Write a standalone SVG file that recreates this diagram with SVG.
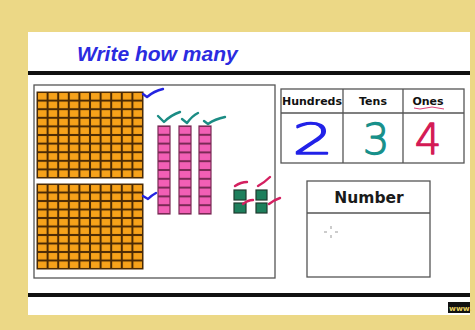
<svg xmlns="http://www.w3.org/2000/svg" width="475" height="330" viewBox="0 0 475 330">
<style>
.chk{fill:none;stroke-width:2.4;stroke-linecap:round;stroke-linejoin:round}
.hdr{font-family:"DejaVu Sans",sans-serif;font-size:11px;font-weight:bold;fill:#111;text-anchor:middle}
.dig{font-family:"DejaVu Sans",sans-serif;font-size:42px;font-weight:200;text-anchor:middle;stroke-width:1.3;stroke-linejoin:round}
.box{fill:#fff;stroke:#555;stroke-width:1.3}
</style>
<defs>
<pattern id="hund" patternUnits="userSpaceOnUse" x="37" y="92" width="10.6" height="8.6">
<rect width="10.6" height="8.6" fill="#4a2a05"/>
<rect x="1" y="1" width="8.6" height="6.6" fill="#F7A21A"/>
</pattern>
<pattern id="hund2" patternUnits="userSpaceOnUse" x="37" y="184" width="10.6" height="8.5">
<rect width="10.6" height="8.5" fill="#4a2a05"/>
<rect x="1" y="1" width="8.6" height="6.5" fill="#F7A21A"/>
</pattern>
<pattern id="ten" patternUnits="userSpaceOnUse" x="0" y="126" width="12" height="8.8">
<rect width="12" height="8.8" fill="#7a2a55"/>
<rect x="0" y="1" width="12" height="6.8" fill="#F25FB5"/>
</pattern>
</defs>
<rect width="475" height="330" fill="#ECD886"/>
<rect x="28" y="32" width="442" height="283" fill="#fff"/>
<rect x="28" y="71" width="442" height="4" fill="#111"/>
<rect x="28" y="293" width="442" height="4" fill="#111"/>
<text x="77" y="61" font-family="Liberation Sans, sans-serif" font-size="21" font-weight="bold" font-style="italic" fill="#2B2BE0">Write how many</text>

<g id="blocks">
<rect class="box" x="34" y="85" width="241" height="193" stroke="#666" stroke-width="1.6"/>
<g id="hundred1"><rect x="37" y="92" width="106" height="86" fill="url(#hund)" stroke="#4a2a05" stroke-width="1"/></g>
<g id="hundred2"><rect x="37" y="184" width="106" height="85" fill="url(#hund2)" stroke="#4a2a05" stroke-width="1"/></g>
<g id="ten1"><rect x="158" y="126" width="12" height="88" fill="url(#ten)" stroke="#7a2a55" stroke-width="1.2"/></g>
<g id="ten2"><rect x="179" y="126" width="12" height="88" fill="url(#ten)" stroke="#7a2a55" stroke-width="1.2"/></g>
<g id="ten3"><rect x="199" y="126" width="12" height="88" fill="url(#ten)" stroke="#7a2a55" stroke-width="1.2"/></g>
<g id="ones" fill="#1D7F5C" stroke="#1f3a2e" stroke-width="1.2">
<rect x="234" y="190" width="12" height="10"/>
<rect x="256" y="190" width="11" height="10"/>
<rect x="234" y="203" width="12" height="10"/>
<rect x="256" y="203" width="11" height="10"/>
</g>
</g>

<g id="checks">
<path class="chk" stroke="#2424E0" d="M143,94 L147,97 Q154,91 163,89"/>
<path class="chk" stroke="#2424E0" d="M143,196 L148,199 Q152,195 156,193"/>
<path class="chk" stroke="#1B8C84" d="M158,116 L164,122 Q171,115 180,112"/>
<path class="chk" stroke="#1B8C84" d="M182,119 L187,123 Q192,116 198,113"/>
<path class="chk" stroke="#1B8C84" d="M204,121 L208,124 Q215,119 225,117"/>
<path class="chk" stroke="#D42060" d="M235,186 Q241,182 247,182"/>
<path class="chk" stroke="#D42060" d="M258,186 Q265,182 270,177"/>
<path class="chk" stroke="#D42060" d="M243,204 Q248,200 253,200"/>
<path class="chk" stroke="#D42060" d="M269,204 Q274,200 280,198"/>
</g>

<g id="place-value-table">
<rect class="box" x="281" y="89" width="183" height="74"/>
<line x1="281" y1="113" x2="464" y2="113" stroke="#555" stroke-width="1.3"/>
<line x1="343" y1="89" x2="343" y2="163" stroke="#555" stroke-width="1.3"/>
<line x1="403" y1="89" x2="403" y2="163" stroke="#555" stroke-width="1.3"/>
<text class="hdr" x="312" y="105" font-size="10.5">Hundreds</text>
<text class="hdr" x="373" y="105">Tens</text>
<text class="hdr" x="428" y="105">Ones</text>
<path d="M414,108 Q420,110 426,108 T438,108 L444,109" fill="none" stroke="#E0407A" stroke-width="1"/>
<text class="dig" x="0" y="154" fill="#2222E8" stroke="#2222E8" transform="translate(313,0) scale(1.55,1)">2</text>
<text class="dig" x="376" y="154" fill="#17908A" stroke="#17908A">3</text>
<text class="dig" x="428" y="154" fill="#D41A55" stroke="#D41A55">4</text>
</g>

<g id="number-box">
<rect class="box" x="307" y="181" width="123" height="96"/>
<line x1="307" y1="213" x2="430" y2="213" stroke="#555" stroke-width="1.3"/>
<text x="369" y="203" font-family="DejaVu Sans, sans-serif" font-size="15.5" font-weight="bold" fill="#1a1a1a" text-anchor="middle">Number</text>
<path d="M324,232 h3 M335,232 h3 M331,226 v3 M331,235 v3" stroke="#999" stroke-width="1"/>
</g>

<g id="watermark">
<rect x="448" y="302" width="22" height="11" fill="#111"/>
<text x="449" y="311" font-family="DejaVu Sans, sans-serif" font-size="7.500" font-weight="bold" fill="#E8D060">www.</text>
</g>
</svg>
